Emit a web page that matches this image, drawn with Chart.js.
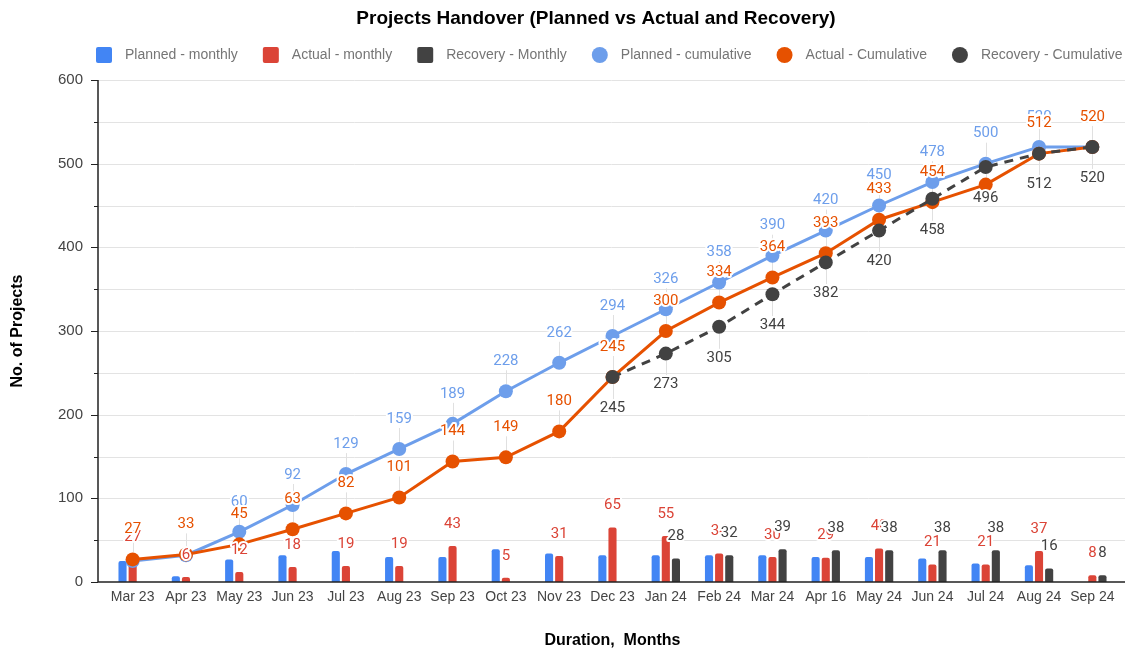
<!DOCTYPE html>
<html>
<head>
<meta charset="utf-8">
<title>Projects Handover</title>
<script src="https://cdn.jsdelivr.net/npm/chart.js@4.4.1/dist/chart.umd.min.js"></script>
<style>
  html, body { margin: 0; padding: 0; background: #fff; }
  #wrap { width: 1126px; height: 650px; }
</style>
</head>
<body>
<div id="wrap"><canvas id="handover"></canvas></div>
<script>
const months = ["Mar 23", "Apr 23", "May 23", "Jun 23", "Jul 23", "Aug 23", "Sep 23", "Oct 23", "Nov 23", "Dec 23",
  "Jan 24", "Feb 24", "Mar 24", "Apr 16", "May 24", "Jun 24", "Jul 24", "Aug 24", "Sep 24"];

const plannedMonthly = [25, 7, 27, 32, 37, 30, 30, 39, 34, 32, 32, 32, 32, 30, 30, 28, 22, 20, null];
const actualMonthly = [27, 6, 12, 18, 19, 19, 43, 5, 31, 65, 55, 34, 30, 29, 40, 21, 21, 37, 8];
const recoveryMonthly = [null, null, null, null, null, null, null, null, null, null, 28, 32, 39, 38, 38, 38, 38, 16, 8];

const plannedCumulative = [25, 32, 60, 92, 129, 159, 189, 228, 262, 294, 326, 358, 390, 420, 450, 478, 500, 520, 520];
const actualCumulative = [27, 33, 45, 63, 82, 101, 144, 149, 180, 245, 300, 334, 364, 393, 433, 454, 475, 512, 520];
const recoveryCumulative = [null, null, null, null, null, null, null, null, null, 245, 273, 305, 344, 382, 420, 458, 496, 512, 520];

const yTicksMax = 600;

const BLUE_BAR = "#4285f4";
const RED_BAR = "#db4437";
const DARK = "#424242";
const BLUE_LINE = "#6d9eeb";
const ORANGE = "#e65100";

const AXIS_X = 98; // where the y axis line sits

// title + legend drawn by hand so they can sit where we want them
const header = {
  id: "header",
  afterDraw(chart) {
    const ctx = chart.ctx;
    ctx.save();
    ctx.fillStyle = "#000";
    ctx.font = "bold 19px 'Liberation Sans', Arial, sans-serif";
    ctx.textAlign = "center";
    ctx.textBaseline = "middle";
    ctx.fillText("Projects Handover (Planned vs Actual and Recovery)", 596, 19);

    ctx.font = "14px 'Liberation Sans', Arial, sans-serif";
    ctx.textAlign = "left";
    let x = 96;
    const y = 55;
    chart.data.datasets.forEach(ds => {
      ctx.fillStyle = ds.legendColor;
      ctx.beginPath();
      if (ds.type === "bar") {
        ctx.roundRect(x, y - 8, 16, 16, 2);
      } else {
        ctx.arc(x + 8, y, 8, 0, Math.PI * 2);
      }
      ctx.fill();
      ctx.fillStyle = "#757575";
      ctx.fillText(ds.label, x + 29, y);
      x += 29 + ctx.measureText(ds.label).width + 25;
    });
    ctx.restore();
  }
};

// gridlines, axis lines and tick marks
const axes = {
  id: "axes",
  beforeDatasetsDraw(chart) {
    const ctx = chart.ctx;
    const y = chart.scales.y;
    const right = chart.width - 1;
    ctx.save();
    ctx.strokeStyle = "#e3e3e3";
    ctx.lineWidth = 1;
    y.ticks.forEach(t => {
      if (t.value === 0) return;
      const py = Math.round(y.getPixelForValue(t.value)) + 0.5;
      ctx.beginPath();
      ctx.moveTo(AXIS_X, py);
      ctx.lineTo(right, py);
      ctx.stroke();
    });

    // stems from cumulative labels to their points
    ctx.strokeStyle = "#e0e0e0";
    chart.data.datasets.forEach((ds, i) => {
      const lbl = ds.valueLabel;
      if (!lbl || !lbl.stem) return;
      chart.getDatasetMeta(i).data.forEach((el, j) => {
        if (ds.data[j] == null || lbl.skip.includes(j)) return;
        const dir = lbl.below ? 1 : -1;
        const px = Math.round(el.x) + 0.5;
        ctx.beginPath();
        ctx.moveTo(px, el.y + dir * 7);
        ctx.lineTo(px, el.y + dir * (lbl.offset - 9));
        ctx.stroke();
      });
    });
    ctx.restore();
  },
  afterDatasetsDraw(chart) {
    const ctx = chart.ctx;
    const y = chart.scales.y;
    const area = chart.chartArea;
    ctx.save();
    ctx.strokeStyle = "#222";
    ctx.lineWidth = 1.5;
    ctx.beginPath();
    ctx.moveTo(AXIS_X, area.top);
    ctx.lineTo(AXIS_X, area.bottom);
    ctx.moveTo(AXIS_X, area.bottom);
    ctx.lineTo(chart.width - 1, area.bottom);
    ctx.stroke();
    ctx.lineWidth = 1;
    y.ticks.forEach(t => {
      const py = Math.round(y.getPixelForValue(t.value)) + 0.5;
      const len = t.value % 100 === 0 ? 7 : 4;
      ctx.beginPath();
      ctx.moveTo(AXIS_X - len, py);
      ctx.lineTo(AXIS_X, py);
      ctx.stroke();
    });
    ctx.restore();
  }
};

// value labels with a white halo
const valueLabels = {
  id: "valueLabels",
  afterDatasetsDraw(chart) {
    const ctx = chart.ctx;
    ctx.save();
    ctx.font = "15px Roboto, sans-serif";
    ctx.textAlign = "center";
    ctx.textBaseline = "middle";
    ctx.lineJoin = "round";
    chart.data.datasets.forEach((ds, i) => {
      const lbl = ds.valueLabel;
      if (!lbl) return;
      chart.getDatasetMeta(i).data.forEach((el, j) => {
        const v = ds.data[j];
        if (v == null || lbl.skip.includes(j)) return;
        const ty = lbl.below ? el.y + lbl.offset : el.y - lbl.offset;
        ctx.strokeStyle = "#fff";
        ctx.lineWidth = 4;
        ctx.strokeText(String(v), el.x, ty);
        ctx.fillStyle = lbl.color;
        ctx.fillText(String(v), el.x, ty);
      });
    });
    ctx.restore();
  }
};

const barBase = {
  type: "bar",
  borderRadius: { topLeft: 2, topRight: 2 },
  borderSkipped: "bottom",
  categoryPercentage: 0.57,
  barPercentage: 0.8,
  order: 3
};

const lineBase = {
  type: "line",
  borderWidth: 3,
  tension: 0,
  pointRadius: 7,
  pointHoverRadius: 7,
  pointBorderWidth: 0,
  spanGaps: false
};

new Chart(document.getElementById("handover"), {
  data: {
    labels: months,
    datasets: [
      { ...barBase, label: "Planned - monthly", data: plannedMonthly, backgroundColor: BLUE_BAR, legendColor: BLUE_BAR },
      { ...barBase, label: "Actual - monthly", data: actualMonthly, backgroundColor: RED_BAR, legendColor: RED_BAR,
        valueLabel: { color: RED_BAR, offset: 22, skip: [] } },
      { ...barBase, label: "Recovery - Monthly", data: recoveryMonthly, backgroundColor: DARK, legendColor: DARK,
        valueLabel: { color: DARK, offset: 22, skip: [] } },
      { ...lineBase, label: "Planned - cumulative", data: plannedCumulative, borderColor: BLUE_LINE,
        backgroundColor: BLUE_LINE, pointBackgroundColor: BLUE_LINE, legendColor: BLUE_LINE, order: 2,
        valueLabel: { color: BLUE_LINE, offset: 30, stem: true, skip: [0, 1, 18] } },
      { ...lineBase, label: "Actual - Cumulative", data: actualCumulative, borderColor: ORANGE,
        backgroundColor: ORANGE, pointBackgroundColor: ORANGE, legendColor: ORANGE, order: 1,
        valueLabel: { color: ORANGE, offset: 30, stem: true, skip: [16] } },
      { ...lineBase, label: "Recovery - Cumulative", data: recoveryCumulative, borderColor: DARK,
        borderDash: [9, 7], backgroundColor: DARK, pointBackgroundColor: DARK, legendColor: DARK, order: 0,
        valueLabel: { color: DARK, offset: 31, below: true, stem: true, skip: [] } }
    ]
  },
  options: {
    responsive: true,
    maintainAspectRatio: false,
    animation: false,
    layout: { padding: { top: 80, right: 6, left: 0, bottom: 0 } },
    plugins: {
      legend: { display: false },
      title: { display: false },
      tooltip: { enabled: false }
    },
    scales: {
      x: {
        offset: true,
        grid: { display: false, drawTicks: false },
        border: { display: false },
        ticks: {
          color: "#444",
          font: { family: "'Liberation Sans', Arial, sans-serif", size: 14 },
          padding: 7,
          maxRotation: 0,
          autoSkip: false
        },
        title: {
          display: true,
          text: "Duration,  Months",
          color: "#000",
          font: { family: "'Liberation Sans', Arial, sans-serif", size: 16, weight: "bold" },
          padding: { top: 0, bottom: 0 }
        },
        afterFit(scale) { scale.height = 68; }
      },
      y: {
        min: 0,
        max: yTicksMax,
        grid: { display: false, drawTicks: false },
        border: { display: false },
        ticks: {
          stepSize: 50,
          color: "#444",
          font: { family: "'Liberation Sans', Arial, sans-serif", size: 15 },
          padding: 23,
          callback: v => (v % 100 === 0 ? v : "")
        },
        title: {
          display: true,
          text: "No. of Projects",
          color: "#000",
          font: { family: "'Liberation Sans', Arial, sans-serif", size: 16, weight: "bold" },
          padding: { top: 8, bottom: 0 }
        },
        afterFit(scale) { scale.width = 106; }
      }
    }
  },
  plugins: [axes, valueLabels, header]
});
</script>
</body>
</html>
